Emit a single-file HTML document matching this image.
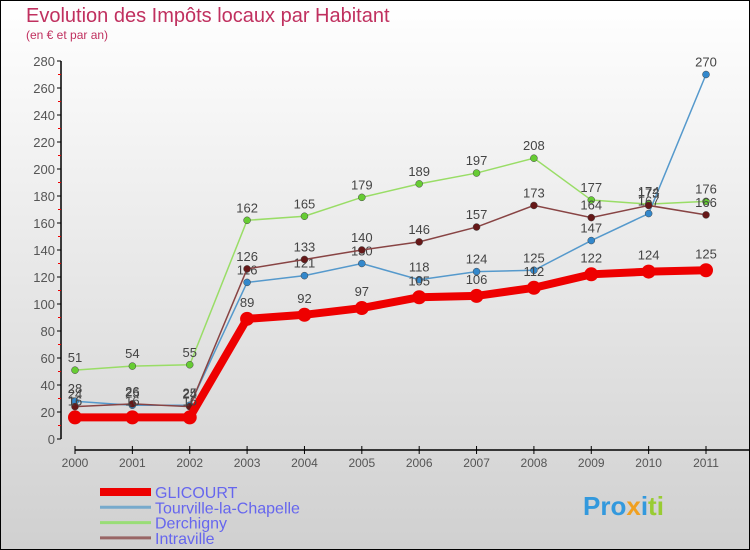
<!DOCTYPE html>
<html><head><meta charset="utf-8"><style>
body{margin:0}
#c{width:750px;height:550px;position:relative;overflow:hidden;box-sizing:border-box;border:1px solid #000;background:linear-gradient(#ffffff,#d0d0d0);font-family:"Liberation Sans",sans-serif}
</style></head><body>
<div id="c">
<svg id="s" width="750" height="550" style="position:absolute;left:-1px;top:-1px">
<text x="26" y="22" font-size="20" fill="#c0305f">Evolution des Impôts locaux par Habitant</text>
<text x="26" y="39" font-size="12" fill="#c0305f">(en € et par an)</text>
</svg>
</div>
<script>
const years=["2000","2001","2002","2003","2004","2005","2006","2007","2008","2009","2010","2011"];
const glicourt=[16,16,16,89,92,97,105,106,112,122,124,125];
const tourville=[28,25,25,116,121,130,118,124,125,147,167,270];
const derchigny=[51,54,55,162,165,179,189,197,208,177,174,176];
const intraville=[24,26,24,126,133,140,146,157,173,164,173,166];
const yTicks=[0,20,40,60,80,100,120,140,160,180,200,220,240,260,280];
const names=["GLICOURT","Tourville-la-Chapelle","Derchigny","Intraville"];
const s=document.getElementById('s');const NS='http://www.w3.org/2000/svg';
function X(i){return 75+i*(706-75)/11}
function Y(v){return 439-v*(439-61)/280}
function el(t,a,p){const e=document.createElementNS(NS,t);for(const k in a)e.setAttribute(k,a[k]);(p||s).appendChild(e);return e}
const ax=el('g',{});


el('line',{x1:61,y1:Y(280),x2:61,y2:Y(0),stroke:'#000','stroke-width':1.5},ax);
yTicks.forEach(v=>{el('line',{x1:57,x2:61,y1:Y(v),y2:Y(v),stroke:'#000'},ax);
 if(v<280)el('line',{x1:58,x2:61,y1:Y(v+10),y2:Y(v+10),stroke:'#e00'},ax);
 const t=el('text',{x:55,y:Y(v)+5,'text-anchor':'end','font-size':13,fill:'#555'},ax);t.textContent=v;
 });
el('line',{x1:75,y1:450,x2:750,y2:450,stroke:'#000','stroke-width':1.5},ax);
years.forEach((y,i)=>{el('line',{x1:X(i),x2:X(i),y1:446,y2:454,stroke:'#000'},ax);
 const t=el('text',{x:X(i),y:467,'text-anchor':'middle','font-size':12,fill:'#555'},ax);t.textContent=y;
 });
function series(d,col,dot,w,r,name,lab){
 const g=el('g',{});
 
 
 el('polyline',{points:d.map((v,i)=>X(i)+','+Y(v)).join(' '),fill:'none',stroke:col,'stroke-width':w},g);
 d.forEach((v,i)=>{const c=el('circle',{cx:X(i),cy:Y(v),r:r,fill:dot,stroke:col==dot?'none':'#444','stroke-width':0.5},g);
  
  const t=el('text',{x:X(i),y:Y(v)-8-(r>5?4:0),'text-anchor':'middle','font-size':13,fill:'#444'},g);t.textContent=v;
  });
}
series(derchigny,'#99dd66','#66cc33',1.5,3.5,'derchigny');
series(tourville,'#5599cc','#3388cc',1.5,3.5,'tourville');
series(intraville,'#884444','#661818',1.5,3.5,'intraville');
series(glicourt,'#ee0000','#ee0000',8,7,'glicourt');
const lc=['#ee0000','#77aacc','#99dd77','#996666'];const lw=[8,3,3,3];
names.forEach((n,i)=>{const y=492+i*15.3;
 const g=el('g',{});
 
 
 el('line',{x1:100,x2:151,y1:y,y2:y,stroke:lc[i],'stroke-width':lw[i]},g);
 const t=el('text',{x:155,y:y+6,'font-size':16,fill:'#6666ee'},g);t.textContent=n;});
const lg=el('text',{x:583,y:515,'font-size':26,'font-weight':'bold',fill:'#f09020'});


lg.innerHTML='<tspan fill="#3399dd">Pro</tspan><tspan fill="#f0a020">x</tspan><tspan fill="#3399dd">i</tspan><tspan fill="#99cc33">ti</tspan>';
</script>
</body></html>
